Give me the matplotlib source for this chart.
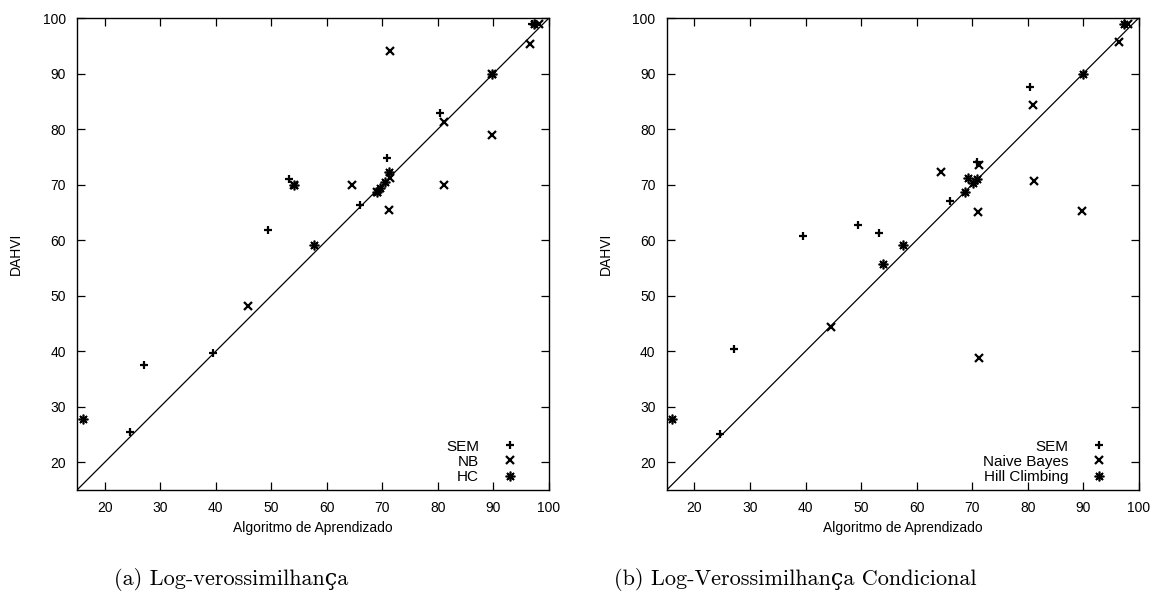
import matplotlib
matplotlib.use("Agg")
import matplotlib.pyplot as plt

# ---------------- data ----------------
# panel (a) Log-verossimilhança
a_sem_x = [24.6, 27.1, 39.5, 49.4, 53.2, 66.0, 69.3, 70.9, 80.4, 97.0]
a_sem_y = [25.4, 37.6, 39.7, 61.8, 71.0, 66.4, 69.0, 74.8, 82.9, 99.0]
a_nb_x = [45.85, 54.0, 64.5, 69.0, 71.1, 71.4, 71.4, 81.1, 81.1, 89.7, 89.8, 96.6, 98.2]
a_nb_y = [48.1, 70.0, 70.0, 68.7, 65.4, 71.1, 94.1, 81.3, 70.0, 78.9, 90.0, 95.3, 99.0]
a_hc_x = [16.0, 54.0, 57.6, 69.0, 69.6, 70.5, 71.2, 89.8, 97.3]
a_hc_y = [27.8, 70.0, 59.1, 68.7, 69.3, 70.5, 72.2, 90.0, 99.0]

# panel (b) Log-Verossimilhança Condicional
b_sem_x = [24.6, 27.1, 39.5, 49.4, 53.3, 66.0, 70.9, 80.4]
b_sem_y = [25.1, 40.4, 60.8, 62.8, 61.2, 67.0, 74.1, 87.6]
b_nb_x = [44.5, 64.4, 71.0, 71.3, 71.3, 81.0, 81.15, 89.7, 96.5, 98.0]
b_nb_y = [44.4, 72.2, 65.1, 73.5, 38.8, 84.3, 70.6, 65.2, 95.7, 99.0]
b_hc_x = [16.0, 54.0, 57.5, 68.7, 69.3, 70.2, 70.9, 89.9, 97.4]
b_hc_y = [27.7, 55.75, 59.1, 68.6, 71.2, 70.3, 70.95, 90.0, 98.9]

ticks = [20, 30, 40, 50, 60, 70, 80, 90, 100]
diag = [15, 100]

panels = [
    dict(sem=(a_sem_x, a_sem_y), nb=(a_nb_x, a_nb_y), hc=(a_hc_x, a_hc_y),
         labels=["SEM", "NB", "HC"], caption="(a) Log-verossimilhança",
         rect=[77 / 1161, 120 / 610, 472 / 1161, 472 / 610], cap_x=231 / 1161),
    dict(sem=(b_sem_x, b_sem_y), nb=(b_nb_x, b_nb_y), hc=(b_hc_x, b_hc_y),
         labels=["SEM", "Naive Bayes", "Hill Climbing"],
         caption="(b) Log-Verossimilhança Condicional",
         rect=[666.7 / 1161, 120 / 610, 472 / 1161, 472 / 610], cap_x=795 / 1161),
]

plt.rcParams['font.family'] = ['Liberation Sans', 'DejaVu Sans']
fig = plt.figure(figsize=(11.61, 6.10), dpi=100)

for p in panels:
    ax = fig.add_axes(p["rect"])
    ax.plot(diag, diag, color="black", lw=0.9, zorder=1)
    ax.plot(*p["sem"], linestyle="none", marker="+", ms=6, mew=1.6,
            color="black", label=p["labels"][0], zorder=3)
    ax.plot(*p["nb"], linestyle="none", marker="x", ms=6, mew=1.6,
            color="black", label=p["labels"][1], zorder=3)
    ax.plot(*p["hc"], linestyle="none", marker=(8, 2, 0), ms=7, mew=1.2,
            color="black", label=p["labels"][2], zorder=3)
    ax.set_xlim(15, 100)
    ax.set_ylim(15, 100)
    ax.set_xticks(ticks)
    ax.set_yticks(ticks)
    ax.tick_params(direction="in", length=6, width=0.9, top=True, right=True,
                   labelsize=10, pad=8)
    for s in ax.spines.values():
        s.set_linewidth(1.0)
    ax.set_xlabel("Algoritmo de Aprendizado", fontsize=10, labelpad=4)
    ax.set_ylabel("DAHVI", fontsize=10, labelpad=14)
    ax.legend(loc="lower right", bbox_to_anchor=(0.936, 0.013),
              markerfirst=False, frameon=False,
              fontsize=11, handlelength=1.2, handletextpad=1.4,
              labelspacing=0.07, borderaxespad=0.0, borderpad=0.0)
    fig.text(p["cap_x"], 0.05, p["caption"],
             ha="center", va="center", fontsize=16,
             family=["cmr10", "DejaVu Serif"])

fig.savefig("out.png", dpi=100)
